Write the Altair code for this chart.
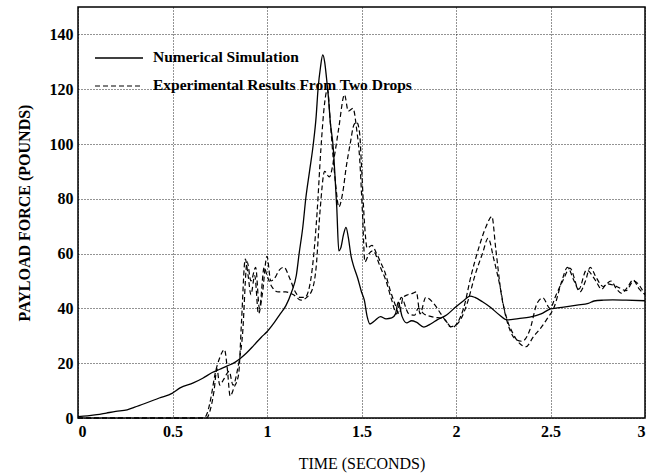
import altair as alt
import pandas as pd

# Numerical simulation of payload force (pounds) vs time (seconds)
sim_t = [0, 0.05, 0.1, 0.15, 0.2, 0.26, 0.3, 0.35, 0.43, 0.5, 0.54, 0.61, 0.66,
         0.71, 0.75, 0.79, 0.83, 0.86, 0.89, 0.93, 0.97, 1.0, 1.04, 1.07, 1.10,
         1.13, 1.155, 1.17, 1.19, 1.205, 1.225, 1.245, 1.26, 1.27, 1.283, 1.295,
         1.305, 1.315, 1.325, 1.335, 1.35, 1.36, 1.369, 1.38, 1.39, 1.405, 1.418,
         1.43, 1.445, 1.456, 1.48, 1.50, 1.515, 1.53, 1.545, 1.57, 1.6, 1.63,
         1.66, 1.68, 1.694, 1.715, 1.739, 1.765, 1.79, 1.83, 1.87, 1.90, 1.95,
         2.0, 2.04, 2.074, 2.10, 2.14, 2.18, 2.23, 2.27, 2.33, 2.39, 2.45, 2.50,
         2.57, 2.64, 2.70, 2.73, 2.78, 2.83, 2.9, 3.0]
sim_f = [0.5, 0.8, 1.2, 1.8, 2.4, 3.0, 4.0, 5.2, 7.3, 9.1, 11, 12.8, 14.5,
         16.6, 17.8, 19, 20.3, 21.8, 23.6, 26.5, 29.5, 31.5, 35, 38, 41,
         46, 52, 60, 70, 80, 90, 100, 110, 120, 128, 132.5,
         130, 124, 117, 108, 99, 88, 77, 61, 62, 67, 69.6,
         66, 59, 56, 51, 46, 43, 37, 34.3, 35.5, 37, 36.2,
         36.5, 38, 42.3, 37, 34.7, 35.5, 35, 33.2, 34.5, 35.8, 37.6,
         40.6, 42.8, 44.5, 44, 42.4, 40.5, 37.6, 35.8, 36.3, 36.8, 38, 39.8,
         40.5, 41.2, 41.8, 42.7, 43, 43.1, 43, 42.8]

# Measured payload force, first drop
drop1_t = [0, 0.3, 0.6, 0.665, 0.685, 0.705, 0.725, 0.75, 0.775, 0.79, 0.805,
           0.825, 0.85, 0.865, 0.885, 0.9, 0.915, 0.935, 0.955, 0.975, 1.0,
           1.02, 1.04, 1.065, 1.09, 1.12, 1.15, 1.175, 1.20, 1.225, 1.245,
           1.265, 1.285, 1.305, 1.32, 1.335, 1.35, 1.365, 1.38, 1.40, 1.42,
           1.44, 1.46, 1.475, 1.49, 1.50, 1.515, 1.53, 1.555, 1.58, 1.60,
           1.625, 1.65, 1.675, 1.70, 1.72, 1.745, 1.77, 1.79, 1.81, 1.84,
           1.88, 1.92, 1.95, 1.98, 2.01, 2.04, 2.08, 2.12, 2.16, 2.19, 2.21,
           2.24, 2.27, 2.30, 2.34, 2.37, 2.41, 2.45, 2.48, 2.52, 2.56, 2.59,
           2.625, 2.656, 2.685, 2.71, 2.744, 2.778, 2.82, 2.85, 2.876, 2.91,
           2.937, 2.97, 3.0]
drop1_f = [0, 0, 0, 0, 2, 8, 16, 22, 25, 18, 8,
           11, 16, 35, 58, 52, 45, 52, 38, 45, 59,
           50, 51, 54, 55, 51, 46, 44, 44, 48, 58,
           75, 98, 115, 120, 108, 95, 84, 77, 82, 92,
           100, 107, 108, 104, 92, 72, 62, 63, 60, 57,
           53, 47, 42, 38, 44, 45, 45.5, 46, 38, 44,
           42, 38, 35, 33, 35, 40, 52, 62, 70, 73.5, 62,
           45, 36, 31, 27, 26, 29.7, 33, 36, 40.6, 50, 55,
           50, 46, 50, 55, 51, 48, 50, 47, 45.5, 48,
           50.4, 47, 45]

# Measured payload force, second drop
drop2_t = [0, 0.3, 0.6, 0.68, 0.70, 0.72, 0.735, 0.75, 0.77, 0.80, 0.82,
           0.845, 0.87, 0.895, 0.915, 0.94, 0.96, 0.985, 1.0, 1.025, 1.06,
           1.10, 1.14, 1.18, 1.21, 1.24, 1.26, 1.28, 1.305, 1.33, 1.355,
           1.38, 1.41, 1.43, 1.455, 1.475, 1.49, 1.505, 1.518, 1.54, 1.56,
           1.60, 1.63, 1.66, 1.686, 1.71, 1.75, 1.78, 1.80, 1.83, 1.87,
           1.94, 1.97, 2.01, 2.06, 2.10, 2.14, 2.17, 2.20, 2.233, 2.26,
           2.286, 2.32, 2.35, 2.39, 2.43, 2.46, 2.497, 2.53, 2.567, 2.603,
           2.65, 2.69, 2.74, 2.77, 2.80, 2.85, 2.90, 2.94, 3.0]
drop2_f = [0, 0, 0, 0, 3, 10, 18, 12, 14, 17, 12,
           18, 30, 57, 50, 55, 40, 55, 52, 48, 46,
           46, 45, 43, 44, 47, 55, 75, 90, 88, 95,
           106, 118, 112, 113, 105, 95, 75, 57, 60, 61,
           55, 50, 43, 38, 44, 38, 37.5, 40, 38, 37,
           36, 33.3, 34.6, 42, 52, 60, 65.6, 58, 48, 38,
           32, 28.5, 28, 32, 42, 43.8, 40, 45, 50.4, 54.7,
           47, 54, 50, 47, 49, 48, 46.5, 50, 45]

x_ticks = [0, 0.5, 1, 1.5, 2, 2.5, 3]
y_ticks = [0, 20, 40, 60, 80, 100, 120, 140]
legend_labels = ["Numerical Simulation", "Experimental Results From Two Drops"]

FONT = "Liberation Serif"
W, H = 567, 411

sim = pd.DataFrame({"t": sim_t, "f": sim_f})
d1 = pd.DataFrame({"t": drop1_t, "f": drop1_f})
d2 = pd.DataFrame({"t": drop2_t, "f": drop2_f})

x_enc = alt.X(
    "t:Q",
    scale=alt.Scale(domain=[0, 3], nice=False, zero=False),
    axis=alt.Axis(values=x_ticks, format="~g", title="TIME (SECONDS)",
                  labelPadding=5, titleX=W / 2, titleY=45,
                  titleBaseline="middle", titleFontWeight="normal",
                  titleFontSize=16),
)
y_enc = alt.Y(
    "f:Q",
    scale=alt.Scale(domain=[0, 150], nice=False),
    axis=alt.Axis(values=y_ticks, title="PAYLOAD FORCE (POUNDS)",
                  labelPadding=5, titleX=-54, titleY=H / 2, titleAngle=-90,
                  titleAlign="center", titleBaseline="middle",
                  titleFontWeight="bold", titleFontSize=16),
)

sim_line = alt.Chart(sim).mark_line(
    color="black", strokeWidth=1.3, interpolate="monotone"
).encode(x=x_enc, y=y_enc)

drop1_line = alt.Chart(d1).mark_line(
    color="black", strokeWidth=1.2, strokeDash=[5, 3], interpolate="monotone"
).encode(x=x_enc, y=y_enc)

drop2_line = alt.Chart(d2).mark_line(
    color="black", strokeWidth=1.2, strokeDash=[5, 3], interpolate="monotone"
).encode(x=x_enc, y=y_enc)

# Key in the upper-left corner of the plot
key_src = pd.DataFrame({"k": [0]})
key_solid = alt.Chart(key_src).mark_rule(color="black", strokeWidth=1.3).encode(
    x=alt.value(17), x2=alt.value(65), y=alt.value(51))
key_dash = alt.Chart(key_src).mark_rule(
    color="black", strokeWidth=1.2, strokeDash=[5, 3]).encode(
    x=alt.value(17), x2=alt.value(65), y=alt.value(79))
key_text1 = alt.Chart(key_src).mark_text(
    align="left", baseline="middle", font=FONT, fontSize=15.5,
    fontWeight="bold", color="black").encode(
    x=alt.value(75), y=alt.value(50), text=alt.value(legend_labels[0]))
key_text2 = alt.Chart(key_src).mark_text(
    align="left", baseline="middle", font=FONT, fontSize=15.5,
    fontWeight="bold", color="black").encode(
    x=alt.value(75), y=alt.value(78), text=alt.value(legend_labels[1]))

chart = alt.layer(
    sim_line, drop1_line, drop2_line,
    key_solid, key_dash, key_text1, key_text2,
).properties(
    width=W, height=H,
    autosize=alt.AutoSizeParams(type="none"),
    padding={"left": 78, "top": 7, "right": 15, "bottom": 58},
    background="white",
).configure_view(
    stroke="black", strokeWidth=1.5
).configure_axis(
    grid=True, gridColor="black", gridDash=[1, 2], gridWidth=1,
    gridOpacity=0.85, domain=False, ticks=False,
    labelFont=FONT, labelFontSize=16, labelFontWeight="bold",
    labelColor="black", titleFont=FONT, titleColor="black",
)

chart.save("out.html", embed_options={"renderer": "svg", "actions": False})
